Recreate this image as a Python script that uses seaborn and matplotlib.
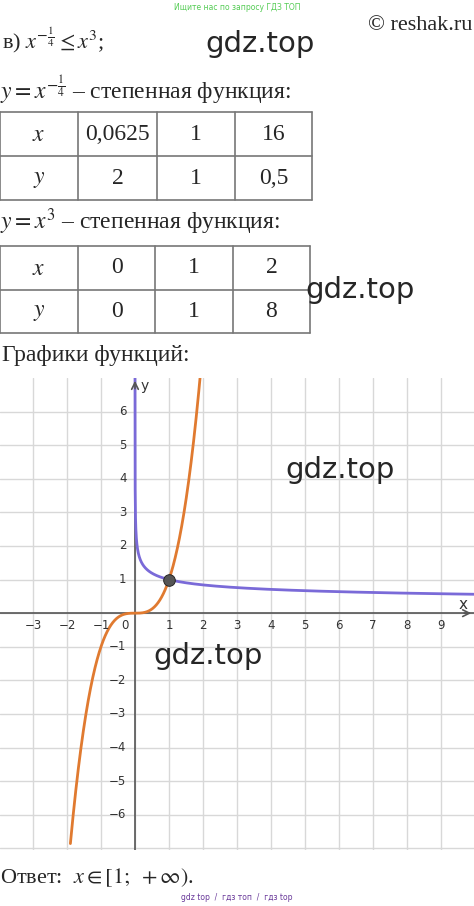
import numpy as np
import pandas as pd
import matplotlib
matplotlib.use("Agg")
import matplotlib.pyplot as plt
import seaborn as sns

# table data
t1_x = ["0,0625", "1", "16"]
t1_y = ["2", "1", "0,5"]
t2_x = ["0", "1", "2"]
t2_y = ["0", "1", "8"]

# curves
xs_pow = np.linspace(0.0004, 10, 2000)
xs_cub = np.linspace(-1.9, 1.913, 800)
x_ticks = [-3, -2, -1, 1, 2, 3, 4, 5, 6, 7, 8, 9]
y_ticks = [-6, -5, -4, -3, -2, -1, 1, 2, 3, 4, 5, 6]

sns.set_theme(style="white")
plt.rcParams['font.family'] = ['DejaVu Sans']
W, H = 474, 906
fig = plt.figure(figsize=(W / 100, H / 100), dpi=100)

def px(x, y):
    return x / W, 1 - y / H

serif = "Liberation Serif"

def ftext(x, y, s, **kw):
    fig.text(*px(x, y), s, **kw)

ftext(237, 8, "Ищите нас по запросу ГДЗ ТОП", color="#55cc55", fontsize=5.5, ha="center", va="center")
ftext(472, 26, "© reshak.ru", family=serif, fontsize=16, ha="right", va="center")
ftext(2, 40, r"в) $x^{-\frac{1}{4}} \leq x^3$;", family=serif, fontsize=16, ha="left", va="center",
      math_fontfamily="stix")
ftext(205, 44, "gdz.top", fontsize=21, ha="left", va="center")
ftext(0, 90, r"$y = x^{-\frac{1}{4}}$ – степенная функция:", family=serif, fontsize=17, ha="left",
      va="center", math_fontfamily="stix")
ftext(0, 222, r"$y = x^3$ – степенная функция:", family=serif, fontsize=17, ha="left", va="center",
      math_fontfamily="stix")
ftext(305, 290, "gdz.top", fontsize=21, ha="left", va="center")
ftext(2, 356, "Графики функций:", family=serif, fontsize=17, ha="left", va="center")
ftext(0, 878, r"Ответ:  $x \in [1;\ +\infty)$.", family=serif, fontsize=16, ha="left", va="center",
      math_fontfamily="stix")
ftext(237, 897, "gdz top  /  гдз топ  /  гдз top", color="#6a3a9a", fontsize=5.5, ha="center", va="center")

def draw_table(top, bottom, cols, rows):
    l, b = px(cols[0], bottom)
    r, t = px(cols[-1], top)
    tax = fig.add_axes([l, b, r - l, t - b])
    tax.set_xlim(cols[0], cols[-1])
    tax.set_ylim(bottom, top)
    tax.axis("off")
    mid = (top + bottom) / 2
    for yv in [top, mid, bottom]:
        tax.plot([cols[0], cols[-1]], [yv, yv], color="#777777", lw=1.2, clip_on=False)
    for xv in cols:
        tax.plot([xv, xv], [top, bottom], color="#777777", lw=1.2, clip_on=False)
    for ri, row in enumerate(rows):
        yc = (top + mid) / 2 if ri == 0 else (mid + bottom) / 2
        for ci, val in enumerate(row):
            xc = (cols[ci] + cols[ci + 1]) / 2
            if ci == 0:
                tax.text(xc, yc, f"${val}$", ha="center", va="center", fontsize=17, math_fontfamily="stix")
            else:
                tax.text(xc, yc, val, ha="center", va="center", fontsize=17, family=serif)

draw_table(112, 200, [0, 78, 157, 235, 312], [["x"] + t1_x, ["y"] + t1_y])
draw_table(246, 333, [0, 78, 155, 233, 310], [["x"] + t2_x, ["y"] + t2_y])

# graph
l, b = px(0, 850)
r, t = px(474, 378)
ax = fig.add_axes([l, b, r - l, t - b])
ax.set_xlim(-3.97, 9.97)
ax.set_ylim(-7.05, 7.0)
for s in ax.spines.values():
    s.set_visible(False)
ax.set_xticks(range(-3, 10))
ax.set_yticks(range(-7, 7))
ax.grid(True, color="#d8d8d8", lw=1)
ax.tick_params(length=0, labelbottom=False, labelleft=False)
ax.axhline(0, color="#555555", lw=1.2)
ax.axvline(0, color="#555555", lw=1.2)
ax.annotate("", xy=(9.97, 0), xytext=(9.6, 0),
            arrowprops=dict(arrowstyle="->", color="#555555", lw=1.2))
ax.annotate("", xy=(0, 7.0), xytext=(0, 6.6),
            arrowprops=dict(arrowstyle="->", color="#555555", lw=1.2))

df_pow = pd.DataFrame({"x": xs_pow, "y": xs_pow ** -0.25})
df_cub = pd.DataFrame({"x": xs_cub, "y": xs_cub ** 3})
sns.lineplot(data=df_pow, x="x", y="y", ax=ax, color="#7a6ad8", lw=2, sort=False)
sns.lineplot(data=df_cub, x="x", y="y", ax=ax, color="#e07a30", lw=2, sort=False)
ax.set_ylim(-7.05, 7.0)
ax.set_xlabel("")
ax.set_ylabel("")
sns.scatterplot(x=[1], y=[1], ax=ax, color="#555555", s=70, edgecolor="#222222", zorder=5)

for v in x_ticks:
    ax.text(v, -0.38, str(v).replace("-", "−"), ha="center", va="center", fontsize=8.5, color="#333333")
ax.text(-0.3, -0.38, "0", ha="center", va="center", fontsize=8.5, color="#333333")
for v in y_ticks:
    ax.text(-0.25, v, str(v).replace("-", "−"), ha="right", va="center", fontsize=8.5, color="#333333")
ax.text(0.15, 6.75, "y", ha="left", va="center", fontsize=10, color="#333333")
ax.text(9.65, 0.25, "x", ha="center", va="center", fontsize=11, color="#333333")

ftext(285, 470, "gdz.top", fontsize=21, ha="left", va="center")
ftext(153, 656, "gdz.top", fontsize=21, ha="left", va="center")

fig.savefig("out.png", dpi=100)
